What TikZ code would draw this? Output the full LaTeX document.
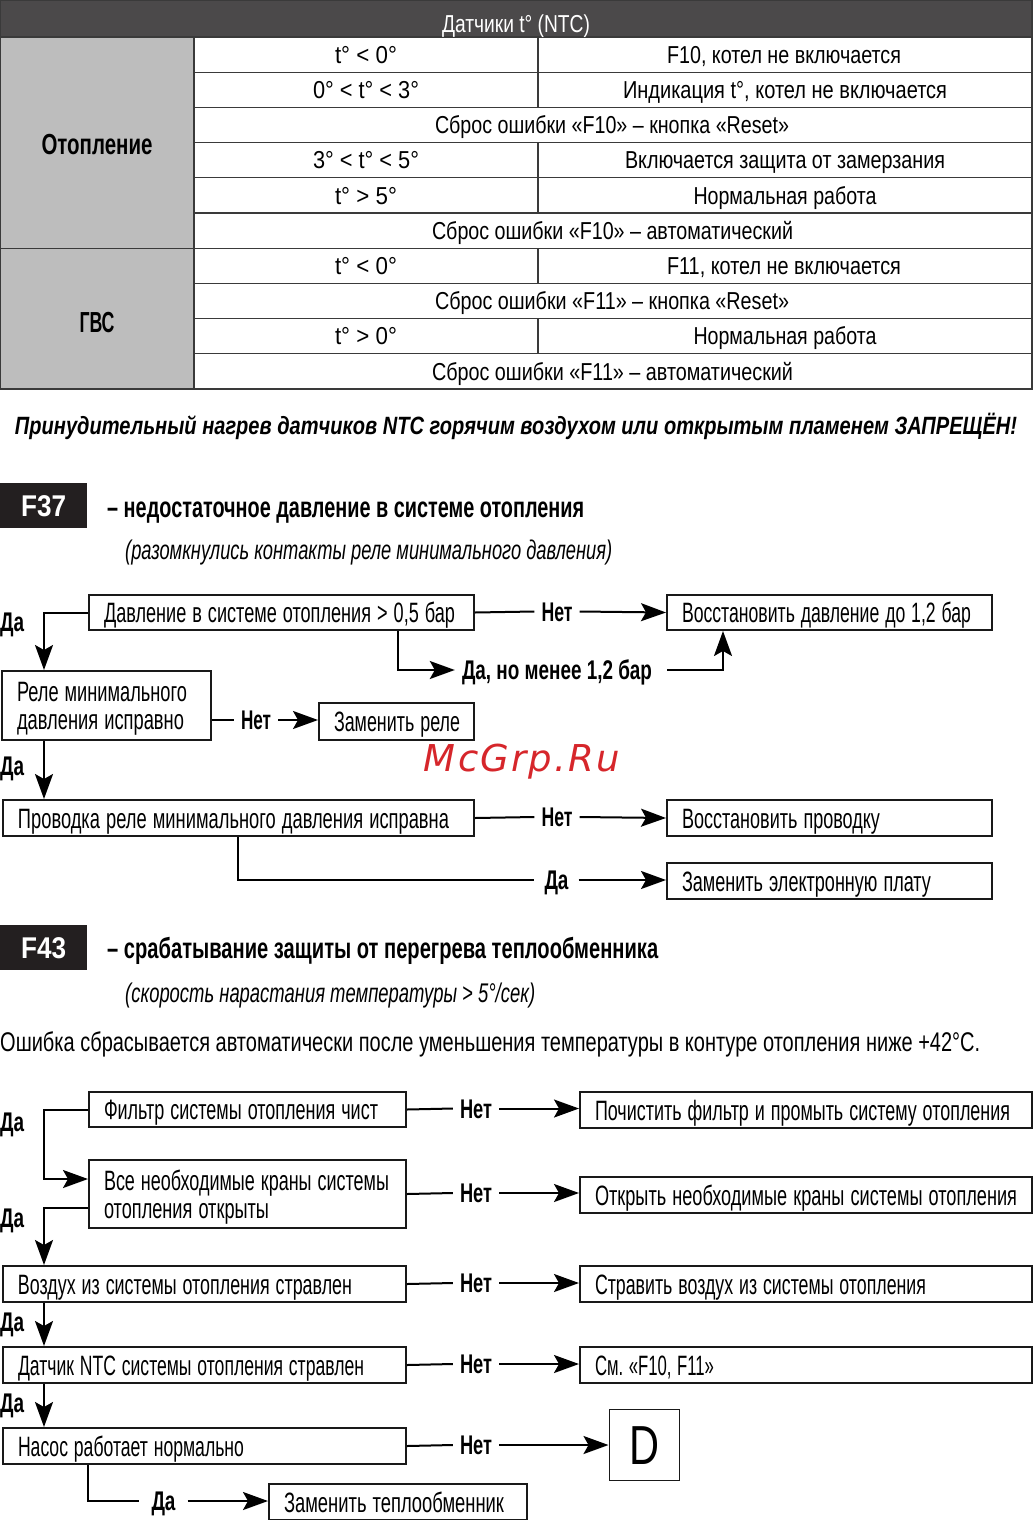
\documentclass[tikz,border=0pt]{standalone}
\usepackage{fontspec}
\usepackage{graphicx}
\setmainfont{Liberation Sans}
\newfontfamily\wmfont[LetterSpace=6]{DejaVu Sans}
\usetikzlibrary{arrows.meta}
\frenchspacing
\definecolor{hdr}{HTML}{4B494A}
\definecolor{lcol}{HTML}{BDBDBD}
\definecolor{tline}{HTML}{3A3A3A}
\definecolor{blk}{HTML}{231F20}
\definecolor{wm}{HTML}{D6262B}
\newsavebox\fxbox
\newcommand\fitx[2]{\sbox\fxbox{#2}\pgfmathsetmacro\fxs{#1/\the\wd\fxbox}\scalebox{\fxs}[1]{\usebox\fxbox}}
\newcommand\fsbox{\fontsize{28}{28}\selectfont}
\newcommand\fstab{\fontsize{24.5}{28}\selectfont}
\newcommand\fslbl{\fontsize{27}{28}\selectfont\bfseries}
\tikzset{
  bx/.style={draw=black!90, line width=2pt, inner xsep=15pt, inner ysep=0pt, align=left,
    font=\fsbox, text height=20pt, text depth=0pt},
  lbl/.style={font=\fslbl, inner xsep=7pt, inner ysep=0pt, text height=19.5pt, text depth=0pt},
  lblL/.style={lbl, anchor=west, inner xsep=0pt},
  arr/.style={-{Stealth[length=25pt,width=18pt,inset=5pt]}, line width=2pt},
  ln/.style={line width=2pt},
  tcell/.style={font=\fstab, inner sep=0pt, text height=17.5pt, text depth=0pt},
  tline/.style={draw=tline, line width=1.3pt},
  codebox/.style={fill=blk, text=white, minimum width=87pt, minimum height=45pt, anchor=north west,
    inner sep=0pt, font=\bfseries\fontsize{30}{30}\selectfont, text height=21.5pt, text depth=0pt},
  heading/.style={anchor=west, inner sep=0pt, font=\bfseries\fontsize{29}{30}\selectfont, text height=21pt, text depth=0pt},
  subhead/.style={anchor=west, inner sep=0pt, font=\itshape\fontsize{27}{28}\selectfont, text height=19pt, text depth=0pt}
}
\newcommand\mkbox[7][]{%
  \pgfmathsetmacro\bxw{#5-#3}\pgfmathsetmacro\bxh{#6-#4}\pgfmathsetmacro\bxt{#5-#3-30}%
  \node[bx, minimum width=\bxw pt, minimum height=\bxh pt, text width=\bxt pt, anchor=north west, #1] (#2) at (#3,#4) {#7};}
\begin{document}
\begin{tikzpicture}[x=1pt,y=-1pt]
\useasboundingbox (0,0) rectangle (1033,1520);
% ---------------- table ----------------
\fill[hdr] (0,0) rectangle (1032,37);
\fill[lcol] (0,37) rectangle (194,389);
\foreach \yy in {72.2,107.4,142.6,177.8,213,283.4,318.6,353.8}
  \draw[tline] (194,\yy) -- (1032,\yy);
\draw[tline] (0,37) -- (1032,37);
\draw[tline] (0,248.2) -- (1032,248.2);
\draw[tline] (194,37) -- (194,389);
\draw[tline] (538,37) -- (538,107.4);
\draw[tline] (538,142.6) -- (538,213);
\draw[tline] (538,248.2) -- (538,283.4);
\draw[tline] (538,318.6) -- (538,353.8);
\draw[tline] (0.65,0.65) rectangle (1032,389);
\node[tcell, text=white] (hd) at (516,23.5) {\fitx{148}{Датчики t° (NTC)}};
\node[tcell, font=\bfseries\fontsize{29}{30}\selectfont, text height=21pt] (otop) at (97,143.5) {\fitx{111}{Отопление}};
\node[tcell, font=\bfseries\fontsize{29}{30}\selectfont, text height=21pt] (gvs) at (97,322) {\fitx{35}{ГВС}};
\node[tcell] (r1a) at (366,54.6) {\fitx{62}{t° < 0°}};
\node[tcell] (r1b) at (784,54.6) {\fitx{234}{F10, котел не включается}};
\node[tcell] (r2a) at (366,89.8) {\fitx{106}{0° < t° < 3°}};
\node[tcell] (r2b) at (785,89.8) {\fitx{324}{Индикация t°, котел не включается}};
\node[tcell] (r3) at (612,125) {\fitx{354}{Сброс ошибки «F10» – кнопка «Reset»}};
\node[tcell] (r4a) at (366,160.2) {\fitx{106}{3° < t° < 5°}};
\node[tcell] (r4b) at (785,160.2) {\fitx{320}{Включается защита от замерзания}};
\node[tcell] (r5a) at (366,195.4) {\fitx{62}{t° > 5°}};
\node[tcell] (r5b) at (785,195.4) {\fitx{183}{Нормальная работа}};
\node[tcell] (r6) at (612.5,230.6) {\fitx{361}{Сброс ошибки «F10» – автоматический}};
\node[tcell] (r7a) at (366,265.8) {\fitx{62}{t° < 0°}};
\node[tcell] (r7b) at (784,265.8) {\fitx{234}{F11, котел не включается}};
\node[tcell] (r8) at (612,301) {\fitx{354}{Сброс ошибки «F11» – кнопка «Reset»}};
\node[tcell] (r9a) at (366,336.2) {\fitx{62}{t° > 0°}};
\node[tcell] (r9b) at (785,336.2) {\fitx{183}{Нормальная работа}};
\node[tcell] (r10) at (612.5,371.4) {\fitx{361}{Сброс ошибки «F11» – автоматический}};
% ---------------- warning ----------------
\node[inner sep=0pt, font=\bfseries\itshape\fontsize{25}{28}\selectfont, text height=18pt, text depth=0pt] (warn) at (516,425)
  {\fitx{1002}{Принудительный нагрев датчиков NTC горячим воздухом или открытым пламенем ЗАПРЕЩЁН!}};
% ---------------- F37 ----------------
\node[codebox] (f37) at (0,483) {\fitx{45}{F37}};
\node[heading] (h37) at (107,507) {\fitx{477}{– недостаточное давление в системе отопления}};
\node[subhead] (s37) at (125,550) {\fitx{487}{(разомкнулись контакты реле минимального давления)}};
\mkbox{A}{88}{594}{473}{629}{\fitx{351}{Давление в системе отопления > 0,5 бар}}
\mkbox[text depth=28pt]{B}{1}{670}{210}{739}{\fitx{170}{Реле минимального}\\\fitx{167}{давления исправно}}
\mkbox{R}{318}{702}{473}{739}{\fitx{126}{Заменить реле}}
\mkbox{C}{2}{799}{473}{835}{\fitx{431}{Проводка реле минимального давления исправна}}
\mkbox{D}{666}{594}{991}{629}{\fitx{289}{Восстановить давление до 1,2 бар}}
\mkbox{E}{666}{799}{991}{835}{\fitx{198}{Восстановить проводку}}
\mkbox{F}{666}{862}{991}{898}{\fitx{249}{Заменить электронную плату}}
\node[lblL] (da1) at (0,622) {\fitx{24}{Да}};
\node[lblL] (da2) at (0,766) {\fitx{24}{Да}};
\node[lbl] (nA) at (557,611.5) {\fitx{31}{Нет}};
\node[lbl] (dnm) at (557,670) {\fitx{190}{Да, но менее 1,2 бар}};
\node[lbl] (nB) at (256,720) {\fitx{30}{Нет}};
\node[lbl] (nC) at (557,817) {\fitx{31}{Нет}};
\node[lbl, inner xsep=10pt] (dF) at (556.5,880) {\fitx{24}{Да}};
\coordinate (xL) at (44,0);
\coordinate (xa) at (398,0);
\coordinate (xb) at (723,0);
\coordinate (xc) at (238,0);
\draw[arr] (A.west) -| (B.north -| xL);
\draw[arr] (B.south -| xL) -- (C.north -| xL);
\draw[ln] (A.east) -- (nA.west);
\draw[arr] (nA.east) -- (D.west);
\draw[arr] (A.south -| xa) |- (dnm.west);
\draw[arr, shorten <=8pt] (dnm.east) -| (D.south -| xb);
\draw[ln] (B.east |- nB) -- (nB.west);
\draw[arr] (nB.east) -- (R.west |- nB);
\draw[ln] (C.east) -- (nC.west);
\draw[arr] (nC.east) -- (E.west);
\draw[ln] (C.south -| xc) |- (dF.west);
\draw[arr] (dF.east) -- (F.west |- dF);
% watermark
\node[inner sep=0pt, text=wm, font=\wmfont\itshape\fontsize{37}{40}\selectfont] (wmk) at (522,762) {McGrp.Ru};
% ---------------- F43 ----------------
\node[codebox] (f43) at (0,925) {\fitx{45}{F43}};
\node[heading] (h43) at (107,948) {\fitx{551}{– срабатывание защиты от перегрева теплообменника}};
\node[subhead] (s43) at (125,993) {\fitx{410}{(скорость нарастания температуры > 5°/сек)}};
\node[anchor=west, inner sep=0pt, font=\fontsize{27}{28}\selectfont, text height=19pt, text depth=0pt] (note) at (0,1042)
  {\fitx{980}{Ошибка сбрасывается автоматически после уменьшения температуры в контуре отопления ниже +42°C.}};
\mkbox{G}{88}{1091}{405}{1126}{\fitx{274}{Фильтр системы отопления чист}}
\mkbox[text depth=28pt]{H}{88}{1159}{405}{1227}{\fitx{285}{Все необходимые краны системы}\\\fitx{165}{отопления открыты}}
\mkbox{I}{2}{1265}{405}{1301}{\fitx{334}{Воздух из системы отопления стравлен}}
\mkbox{J}{2}{1346}{405}{1382}{\fitx{346}{Датчик NTC системы отопления стравлен}}
\mkbox{K}{2}{1427}{405}{1463}{\fitx{226}{Насос работает нормально}}
\mkbox{L}{268}{1483}{526}{1519}{\fitx{220}{Заменить теплообменник}}
\mkbox{M}{579}{1091}{1031}{1127}{\fitx{415}{Почистить фильтр и промыть систему отопления}}
\mkbox{N}{579}{1176}{1031}{1212}{\fitx{422}{Открыть необходимые краны системы отопления}}
\mkbox{O}{579}{1265}{1031}{1301}{\fitx{331}{Стравить воздух из системы отопления}}
\mkbox{P}{579}{1346}{1031}{1382}{\fitx{119}{См. «F10, F11»}}
\node[draw=black!90, line width=1pt, minimum width=70pt, minimum height=71pt, inner sep=0pt,
  font=\fontsize{55}{55}\selectfont, text height=40pt, text depth=0pt] (Q) at (644,1444.5) {\fitx{30}{D}};
\node[lblL] (da3) at (0,1122) {\fitx{24}{Да}};
\node[lblL] (da4) at (0,1218) {\fitx{24}{Да}};
\node[lblL] (da5) at (0,1322) {\fitx{24}{Да}};
\node[lblL] (da6) at (0,1403) {\fitx{24}{Да}};
\node[lbl] (n1) at (476,1108.5) {\fitx{32}{Нет}};
\node[lbl] (n2) at (476,1193) {\fitx{32}{Нет}};
\node[lbl] (n3) at (476,1283) {\fitx{32}{Нет}};
\node[lbl] (n4) at (476,1364) {\fitx{32}{Нет}};
\node[lbl] (n5) at (476,1445) {\fitx{32}{Нет}};
\node[lbl, inner xsep=12pt] (dL) at (163.5,1501) {\fitx{24}{Да}};
\draw[ln] (G.east) -- (n1.west);  \draw[arr] (n1.east) -- (M.west |- n1);
\draw[ln] (H.east) -- (n2.west);  \draw[arr] (n2.east) -- (N.west |- n2);
\draw[ln] (I.east) -- (n3.west);  \draw[arr] (n3.east) -- (O.west |- n3);
\draw[ln] (J.east) -- (n4.west);  \draw[arr] (n4.east) -- (P.west |- n4);
\draw[ln] (K.east) -- (n5.west);  \draw[arr] (n5.east) -- (Q.west |- n5);
\coordinate (g1) at (44,1179);
\coordinate (h1) at (44,1208);
\coordinate (k1) at (88,1501);
\draw[arr] (G.west) -| (g1) -- (H.west |- g1);
\draw[arr] (H.west |- h1) -- (h1) -- (I.north -| h1);
\draw[arr] (I.south -| xL) -- (J.north -| xL);
\draw[arr] (J.south -| xL) -- (K.north -| xL);
\draw[ln] (K.south -| k1) |- (dL.west);
\draw[arr] (dL.east) -- (L.west |- dL);
\end{tikzpicture}
\end{document}
